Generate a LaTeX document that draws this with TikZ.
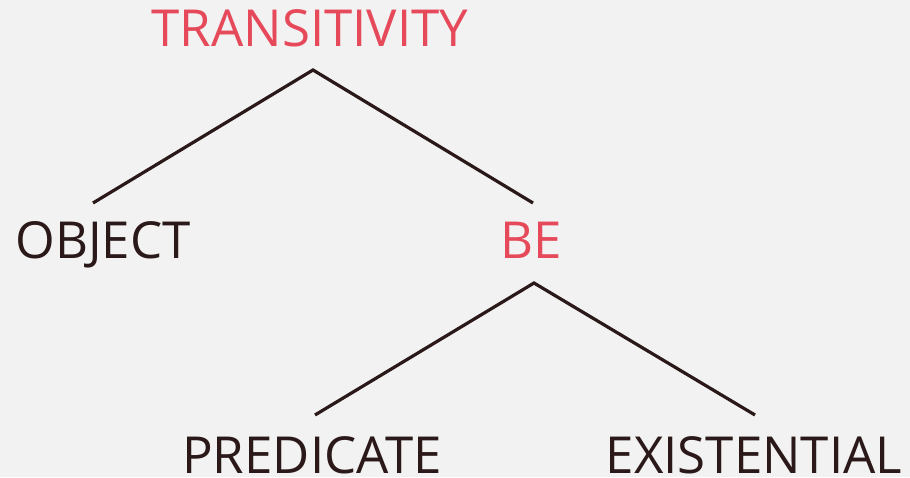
\documentclass[tikz,border=0pt]{standalone}
\usepackage{fontspec}
\setmainfont{Open Sans}
\usetikzlibrary{calc}
\definecolor{bgc}{HTML}{F2F2F2}
\definecolor{redc}{HTML}{E5495A}
\definecolor{darkc}{HTML}{2B1818}
\tikzset{
  lbl/.style={anchor=base, inner sep=0pt, font=\fontsize{51}{60}\selectfont, text=darkc},
  hl/.style={lbl, text=redc},
  edge/.style={draw=darkc, line width=3.2pt}
}
\begin{document}
\begin{tikzpicture}[x=1pt,y=1pt]
\fill[bgc] (0,0) rectangle (910,477);
\useasboundingbox (0,0) rectangle (910,477);
\node[hl] (T) at (310,430) {TRANSITIVITY};
\node[lbl] (O) at (103,218) {OBJECT};
\node[hl] (B) at (531,218) {BE};
\node[lbl] (P) at (312,4) {PREDICATE};
\node[lbl] (E) at (754,4) {EXISTENTIAL};
\draw[edge] ($(O.base)+(-10,56)$) -- ($(T.base)+(3,-23)$) -- ($(B.base)+(2,56)$);
\draw[edge] ($(P.base)+(3,58)$) -- ($(B.base)+(3,-24)$) -- ($(E.base)+(1,58)$);
\end{tikzpicture}
\end{document}
